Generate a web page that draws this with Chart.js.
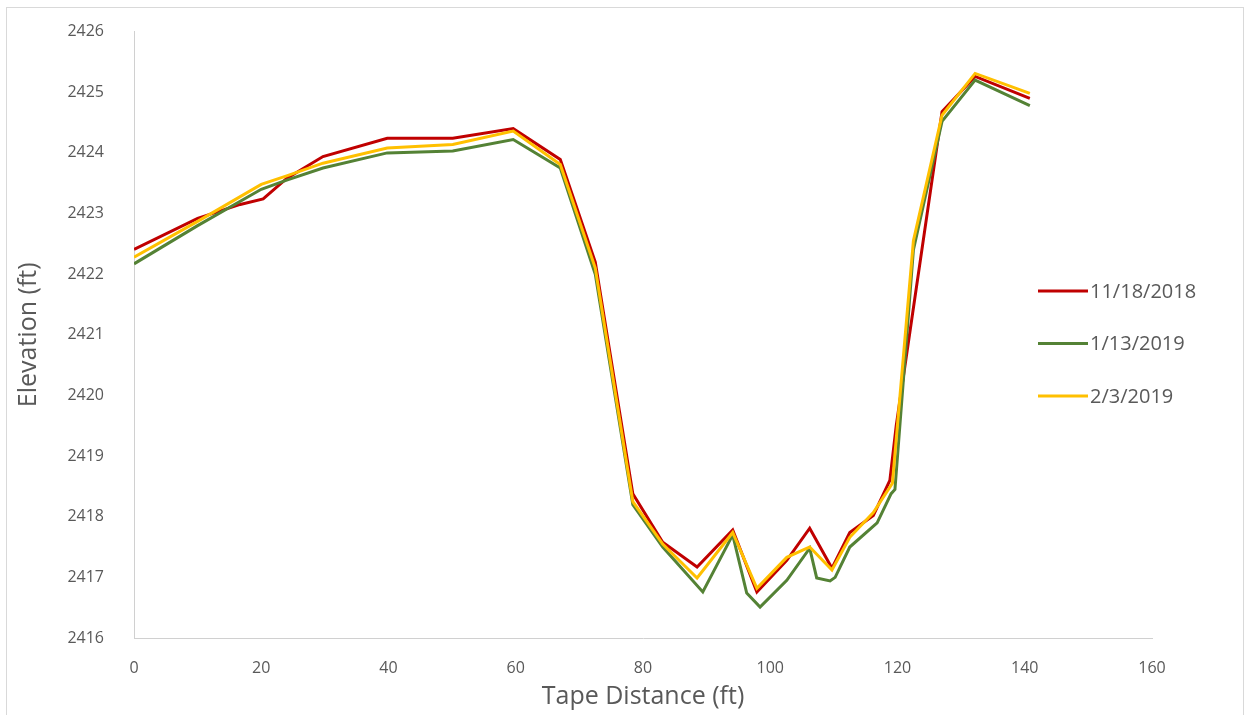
<!DOCTYPE html>
<html>
<head>
<meta charset="utf-8">
<script src="https://cdn.jsdelivr.net/npm/chart.js@4.4.1/dist/chart.umd.min.js"></script>
<style>
  html, body { margin: 0; padding: 0; background: #fff; }
  #wrap { position: relative; width: 1248px; height: 715px; }
  #frame { position: absolute; left: 6px; top: 7px; width: 1236px; height: 712px;
           border: 1px solid #d9d9d9; pointer-events: none; }
</style>
</head>
<body>
<div id="wrap">
  <canvas id="profile" width="1248" height="715"></canvas>
  <div id="frame"></div>
</div>
<script>
// survey dates
const seriesNames = ['11/18/2018', '1/13/2019', '2/3/2019'];
const seriesColors = ['#c00000', '#548235', '#ffc000'];

// tape distance (ft) / elevation (ft)
const distNov = [0, 10, 16.7, 20.3, 24, 29.7, 39.8, 50.1, 59.6, 67, 72.5, 78.4, 83.1, 88.5, 94.1, 97.9, 102.6, 106.2, 109.7, 112.5, 116.2, 118.8, 119.8, 127, 132.2, 140.8];
const elevNov = [2422.41, 2422.92, 2423.15, 2423.24, 2423.58, 2423.94, 2424.24, 2424.24, 2424.40, 2423.89, 2422.2, 2418.38, 2417.58, 2417.17, 2417.78, 2416.76, 2417.28, 2417.81, 2417.15, 2417.74, 2418.02, 2418.6, 2419.5, 2424.68, 2425.26, 2424.9];

const distJan = [0, 10, 20, 24, 29.7, 39.8, 50.1, 59.6, 67, 72.5, 78.4, 83.1, 89.4, 94.1, 96.3, 98.4, 102.6, 106.2, 107.3, 109.4, 110.2, 112.5, 116.8, 119, 119.6, 122.5, 127, 132.2, 140.8];
const elevJan = [2422.17, 2422.8, 2423.4, 2423.55, 2423.75, 2424.0, 2424.03, 2424.22, 2423.75, 2422.0, 2418.2, 2417.5, 2416.76, 2417.7, 2416.74, 2416.51, 2416.95, 2417.48, 2416.99, 2416.94, 2417.0, 2417.5, 2417.9, 2418.38, 2418.45, 2422.4, 2424.52, 2425.2, 2424.78];

const distFeb = [0, 10, 20, 24, 29.7, 39.8, 50.1, 59.6, 67, 72.5, 78.4, 83.1, 88.5, 94.1, 97.9, 102.6, 105.1, 106.2, 109.7, 112.5, 116.2, 119.2, 122.5, 127, 132.2, 140.8];
const elevFeb = [2422.28, 2422.87, 2423.48, 2423.62, 2423.83, 2424.08, 2424.14, 2424.36, 2423.81, 2422.1, 2418.25, 2417.55, 2416.99, 2417.74, 2416.82, 2417.33, 2417.45, 2417.5, 2417.12, 2417.66, 2418.07, 2418.55, 2422.55, 2424.62, 2425.31, 2424.98];

const xTicks = [0, 20, 40, 60, 80, 100, 120, 140, 160];
const yTicks = [2416, 2417, 2418, 2419, 2420, 2421, 2422, 2423, 2424, 2425, 2426];

const textColor = '#595959';
const fontFamily = '"Open Sans", sans-serif';

function toPoints(xs, ys) {
  return xs.map((x, i) => ({ x: x, y: ys[i] }));
}

// legend sits inside the plot on the right, like the Excel original
const sideLegend = {
  id: 'sideLegend',
  afterDraw(chart, args, opts) {
    const ctx = chart.ctx;
    ctx.save();
    ctx.font = opts.fontSize + 'px ' + fontFamily;
    ctx.textBaseline = 'middle';
    ctx.fillStyle = textColor;
    chart.data.datasets.forEach((ds, i) => {
      const y = opts.top + i * opts.gap;
      ctx.strokeStyle = ds.borderColor;
      ctx.lineWidth = 3;
      ctx.beginPath();
      ctx.moveTo(opts.left, y);
      ctx.lineTo(opts.left + opts.lineLen, y);
      ctx.stroke();
      ctx.fillText(ds.label, opts.left + opts.lineLen + 2, y + 1);
    });
    ctx.restore();
  }
};

const datasets = [
  { label: seriesNames[0], data: toPoints(distNov, elevNov), borderColor: seriesColors[0], order: 2 },
  { label: seriesNames[1], data: toPoints(distJan, elevJan), borderColor: seriesColors[1], order: 1 },
  { label: seriesNames[2], data: toPoints(distFeb, elevFeb), borderColor: seriesColors[2], order: 0 },
].map(d => Object.assign(d, {
  backgroundColor: d.borderColor,
  showLine: true,
  pointRadius: 0,
  borderWidth: 3,
  tension: 0,
  fill: false,
}));

new Chart(document.getElementById('profile').getContext('2d'), {
  type: 'scatter',
  data: { datasets: datasets },
  options: {
    responsive: false,
    animation: false,
    layout: { padding: { left: 0, top: 30, right: 96, bottom: 0 } },
    plugins: {
      legend: { display: false },
      tooltip: { enabled: false },
      sideLegend: { left: 1038, top: 291, gap: 52.5, lineLen: 50, fontSize: 20 },
    },
    scales: {
      x: {
        type: 'linear',
        min: 0,
        max: 160,
        afterFit: s => { s.height = 77; },
        afterBuildTicks: s => { s.ticks = xTicks.map(v => ({ value: v })); },
        grid: { display: false },
        border: { display: true, color: '#d0d0d0', width: 1 },
        ticks: { color: textColor, padding: 13, font: { family: fontFamily, size: 16 },
                 callback: v => String(v) },
        title: {
          display: true, text: 'Tape Distance (ft)', color: textColor,
          font: { family: fontFamily, size: 25 }, padding: { bottom: 3 }
        }
      },
      y: {
        min: 2416,
        max: 2426,
        afterFit: s => { s.width = 134; },
        afterBuildTicks: s => { s.ticks = yTicks.map(v => ({ value: v })); },
        grid: { display: false },
        border: { display: true, color: '#d0d0d0', width: 1 },
        ticks: { color: textColor, padding: 22, font: { family: fontFamily, size: 16 },
                 callback: v => String(v) },
        title: {
          display: true, text: 'Elevation (ft)', color: textColor,
          font: { family: fontFamily, size: 25 }, padding: { top: 14 }
        }
      }
    }
  },
  plugins: [sideLegend]
});
</script>
</body>
</html>
